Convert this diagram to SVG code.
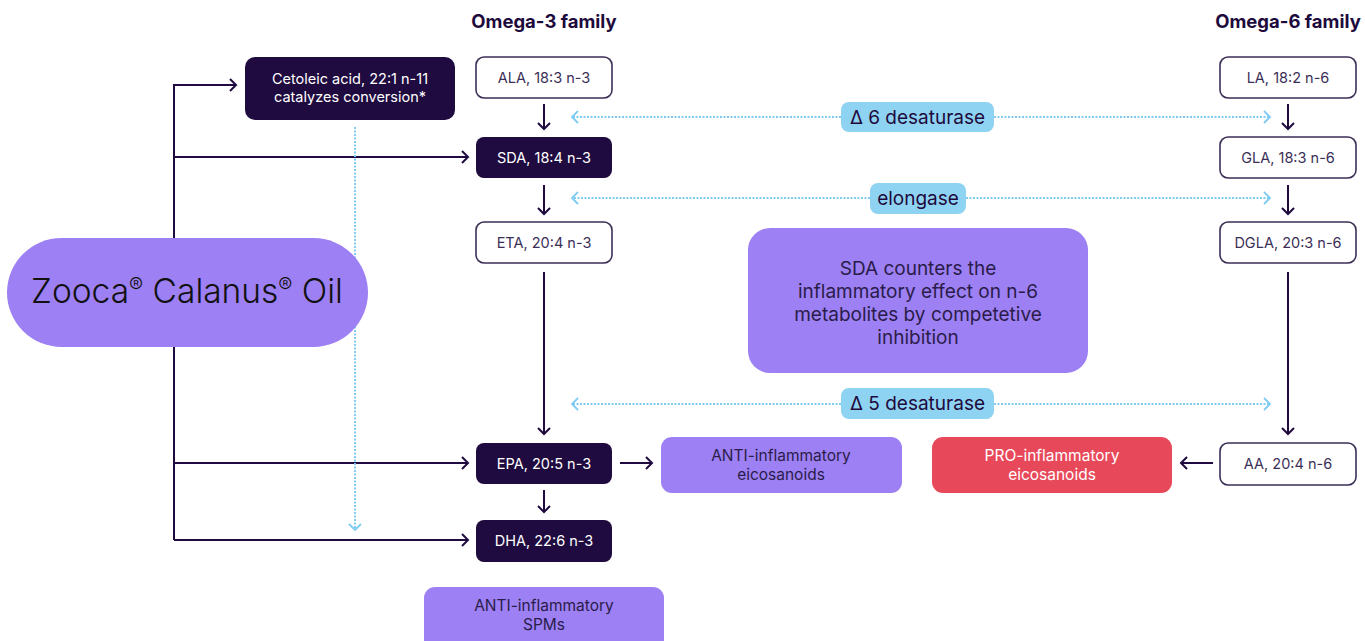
<svg xmlns="http://www.w3.org/2000/svg" width="1365" height="641" viewBox="0 0 1365 641">
<style>
.t{font-family:Inter,"Liberation Sans",sans-serif;text-anchor:middle}
.title{font-size:18.5px;font-weight:700;fill:#1e0a3c}
.dark rect{fill:#1f0b3f}
.dark text{fill:#ffffff;font-size:14.5px}
.light rect{fill:#ffffff;stroke:#3b2f57;stroke-width:1.6}
.light text{fill:#3b2f57;font-size:14.5px}
.purple rect{fill:#9d80f3}
.purple text{fill:#2a1c4a;font-size:15.5px}
.red rect{fill:#e8495a}
.red text{fill:#ffffff;font-size:15.5px}
.enz rect{fill:#8fd3f2}
.enz text{fill:#1e0a3c;font-size:19px}
.purple text.note{font-size:19px}
.ln{stroke:#1f0b3f;stroke-width:2;fill:none}
.dot{stroke:#7fcbf2;stroke-width:2;stroke-dasharray:2 1.5;fill:none}
</style>
<defs>
<marker id="ah" markerUnits="userSpaceOnUse" markerWidth="12" markerHeight="14" refX="8" refY="7" orient="auto">
<path d="M2,1 L8,7 L2,13" fill="none" stroke="#1f0b3f" stroke-width="2"/>
</marker>
<marker id="bh" markerUnits="userSpaceOnUse" markerWidth="12" markerHeight="14" refX="8" refY="7" orient="auto">
<path d="M2,1 L8,7 L2,13" fill="none" stroke="#7fcbf2" stroke-width="1.8"/>
</marker>
</defs>

<text class="t title" x="544" y="28">Omega-3 family</text>
<text class="t title" x="1288" y="28">Omega-6 family</text>

<g id="connectors">
<path class="ln" d="M174,540 L174,85 L236,85" marker-end="url(#ah)"/>
<path class="ln" d="M174,157 L468,157" marker-end="url(#ah)"/>
<path class="ln" d="M174,463 L468,463" marker-end="url(#ah)"/>
<path class="ln" d="M174,540 L468,540" marker-end="url(#ah)"/>
<path class="dot" d="M355,127 L355,530" marker-end="url(#bh)"/>
<path class="ln" d="M544,104 L544,129" marker-end="url(#ah)"/>
<path class="ln" d="M544,185 L544,214" marker-end="url(#ah)"/>
<path class="ln" d="M544,272 L544,434" marker-end="url(#ah)"/>
<path class="ln" d="M544,490 L544,512" marker-end="url(#ah)"/>
<path class="ln" d="M620,463 L652,463" marker-end="url(#ah)"/>
<path class="ln" d="M1288,104 L1288,129" marker-end="url(#ah)"/>
<path class="ln" d="M1288,185 L1288,214" marker-end="url(#ah)"/>
<path class="ln" d="M1288,272 L1288,434" marker-end="url(#ah)"/>
<path class="ln" d="M1213,463 L1181,463" marker-end="url(#ah)"/>
<path class="dot" d="M841,117 L572,117" marker-end="url(#bh)"/>
<path class="dot" d="M994,117 L1270,117" marker-end="url(#bh)"/>
<path class="dot" d="M870,198 L572,198" marker-end="url(#bh)"/>
<path class="dot" d="M966,198 L1270,198" marker-end="url(#bh)"/>
<path class="dot" d="M841,404 L572,404" marker-end="url(#bh)"/>
<path class="dot" d="M994,404 L1270,404" marker-end="url(#bh)"/>
</g>

<g id="zooca" class="purple">
<rect x="7" y="238" width="361" height="109" rx="54.5"/>
<text class="t" x="187" y="303" style="font-size:33.5px;fill:#111;font-weight:300">Zooca<tspan font-size="21" dy="-10">®</tspan><tspan dy="10"> Calanus</tspan><tspan font-size="21" dy="-10">®</tspan><tspan dy="10"> Oil</tspan></text>
</g>

<g id="cetoleic" class="dark">
<rect x="245" y="57" width="210" height="63" rx="10"/>
<text class="t" x="350" y="84">Cetoleic acid, 22:1 n-11</text>
<text class="t" x="350" y="102">catalyzes conversion*</text>
</g>

<g id="ala" class="light"><rect x="476" y="57" width="136" height="41" rx="8"/><text class="t" x="544" y="83">ALA, 18:3 n-3</text></g>
<g id="sda" class="dark"><rect x="476" y="137" width="136" height="41" rx="8"/><text class="t" x="544" y="163">SDA, 18:4 n-3</text></g>
<g id="eta" class="light"><rect x="476" y="222" width="136" height="41" rx="8"/><text class="t" x="544" y="248">ETA, 20:4 n-3</text></g>
<g id="epa" class="dark"><rect x="476" y="443" width="136" height="41" rx="8"/><text class="t" x="544" y="469">EPA, 20:5 n-3</text></g>
<g id="dha" class="dark"><rect x="476" y="520" width="136" height="42" rx="8"/><text class="t" x="544" y="546">DHA, 22:6 n-3</text></g>

<g id="la" class="light"><rect x="1220" y="57" width="136" height="41" rx="8"/><text class="t" x="1288" y="83">LA, 18:2 n-6</text></g>
<g id="gla" class="light"><rect x="1220" y="137" width="136" height="41" rx="8"/><text class="t" x="1288" y="163">GLA, 18:3 n-6</text></g>
<g id="dgla" class="light"><rect x="1220" y="222" width="136" height="41" rx="8"/><text class="t" x="1288" y="248">DGLA, 20:3 n-6</text></g>
<g id="aa" class="light"><rect x="1220" y="443" width="136" height="42" rx="8"/><text class="t" x="1288" y="469">AA, 20:4 n-6</text></g>

<g id="anti-eico" class="purple">
<rect x="661" y="437" width="241" height="56" rx="11"/>
<text class="t" x="781" y="461">ANTI-inflammatory</text>
<text class="t" x="781" y="480">eicosanoids</text>
</g>
<g id="pro-eico" class="red">
<rect x="932" y="437" width="240" height="56" rx="11"/>
<text class="t" x="1052" y="461">PRO-inflammatory</text>
<text class="t" x="1052" y="480">eicosanoids</text>
</g>
<g id="anti-spm" class="purple">
<rect x="424" y="587" width="240" height="64" rx="11"/>
<text class="t" x="544" y="611">ANTI-inflammatory</text>
<text class="t" x="544" y="630">SPMs</text>
</g>

<g id="sda-note" class="purple">
<rect x="748" y="228" width="340" height="145" rx="22"/>
<text class="t note" x="918" y="275">SDA counters the</text>
<text class="t note" x="918" y="298">inflammatory effect on n-6</text>
<text class="t note" x="918" y="321">metabolites by competetive</text>
<text class="t note" x="918" y="344">inhibition</text>
</g>

<g id="d6" class="enz"><rect x="841" y="102" width="153" height="30" rx="8"/><text class="t" x="917.5" y="124">Δ 6 desaturase</text></g>
<g id="elong" class="enz"><rect x="870" y="183" width="96" height="31" rx="8"/><text class="t" x="918" y="205">elongase</text></g>
<g id="d5" class="enz"><rect x="841" y="388" width="153" height="31" rx="8"/><text class="t" x="917.5" y="410">Δ 5 desaturase</text></g>
</svg>
